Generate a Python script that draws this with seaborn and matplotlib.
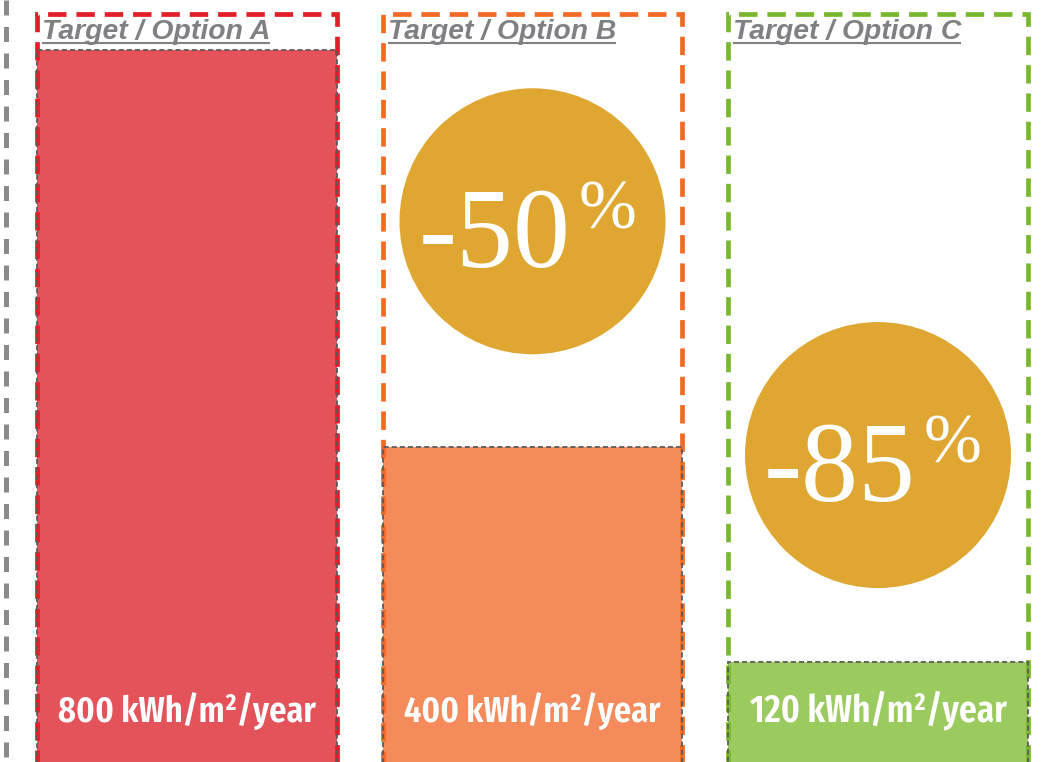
import matplotlib
matplotlib.use("Agg")
import matplotlib.pyplot as plt
import seaborn as sns
import pandas as pd
from matplotlib import font_manager
from matplotlib.font_manager import FontProperties
from matplotlib.lines import Line2D

# ---------------- data ----------------
options = ["Target / Option A", "Target / Option B", "Target / Option C"]
energy_kwh = [800, 400, 120]            # printed values
drawn_heights = [800, 356, 116]         # bar heights as drawn (graphic is not to scale)
reduction_labels = ["", "-50", "-85"]   # badge texts
unit = "kWh/m²/year"

# ---------------- styles ----------------
bar_colors = ["#E4525A", "#F58A5B", "#9BCA5F"]
box_colors = ["#E21E26", "#F26A24", "#79B82D"]
badge_color = "#DFA731"
title_color = "#7F8083"

sns.set_theme(style="white")
plt.rcParams["font.family"] = ["Liberation Sans", "DejaVu Sans"]

W, H, DPI = 1052, 762, 100
PX = 72.0 / DPI  # points per pixel
fig = plt.figure(figsize=(W / DPI, H / DPI), dpi=DPI)
fig.patch.set_facecolor("white")
ax = fig.add_axes([0, 0, 1, 1])

BAR_W = 0.868
FRAME_TOP = 840.3
Y0, Y1 = 4, 856

df = pd.DataFrame({"option": options, "height": drawn_heights,
                   "frame": [FRAME_TOP] * len(options)})
n = len(options)

# filled bars
sns.barplot(data=df, x="option", y="height", hue="option", palette=bar_colors,
            saturation=1, width=BAR_W, errorbar=None, legend=False, ax=ax,
            linewidth=0)
for p in ax.patches[:n]:
    p.set_edgecolor("none")
    p.set_zorder(1)

# coloured dashed frames
sns.barplot(data=df, x="option", y="frame", hue="option", palette=box_colors,
            saturation=1, width=BAR_W, errorbar=None, legend=False, ax=ax,
            fill=False)
for p, c in zip(ax.patches[n:2 * n], box_colors):
    p.set_facecolor("none")
    p.set_edgecolor(c)
    p.set_linewidth(3.4)
    p.set_linestyle((0, (3.9, 2.1)))
    p.set_zorder(2)

# thin grey dashed outline of the bars
sns.barplot(data=df, x="option", y="height", hue="option",
            palette=["#5A5A5A"] * n, saturation=1, width=BAR_W, errorbar=None,
            legend=False, ax=ax, fill=False)
for p in ax.patches[2 * n:3 * n]:
    p.set_facecolor("none")
    p.set_edgecolor("#5A5A5A")
    p.set_linewidth(1.3)
    p.set_linestyle((0, (2.8, 1.7)))
    p.set_zorder(3)

# badges
badge_idx = [i for i, t in enumerate(reduction_labels) if t]
badge_y = [608.6, 347.2]
sns.scatterplot(x=badge_idx, y=badge_y, s=(2 * 133 * PX) ** 2, color=badge_color,
                edgecolor="none", linewidth=0, legend=False, ax=ax, zorder=4)

ax.set_xlim(-0.5412, 2.5036)
ax.set_ylim(Y0, Y1)
ax.axis("off")

# left grey dashed separator
ax.plot([-0.5224, -0.5224], [1, 0], transform=ax.get_xaxis_transform(),
        color="#8A8A8A", lw=3.6, dashes=(3.0, 2.3), dash_capstyle="butt",
        clip_on=False, zorder=5)

# badge texts
serif = ["Liberation Serif", "DejaVu Serif"]
for i, yc in zip(badge_idx, badge_y):
    ax.annotate(reduction_labels[i], xy=(i, yc), xytext=(38 * PX, -46 * PX),
                textcoords="offset points", ha="right", va="baseline",
                fontsize=82, color="white", family=serif, zorder=6)
    ax.annotate("%", xy=(i, yc), xytext=(46 * PX, -7 * PX),
                textcoords="offset points", ha="left", va="baseline",
                fontsize=50, color="white", family=serif, zorder=6)


# pick the narrowest available sans font for the value labels
def _stretch_num(s):
    table = {"ultra-condensed": 100, "extra-condensed": 200, "condensed": 300,
             "semi-condensed": 400, "normal": 500}
    if isinstance(s, (int, float)):
        return s
    return table.get(str(s), 500)


def _weight_num(w):
    if isinstance(w, (int, float)):
        return w
    return {"normal": 400, "regular": 400, "book": 400, "medium": 500,
            "semibold": 600, "demibold": 600, "bold": 700}.get(str(w), 400)


best = None
for f in font_manager.fontManager.ttflist:
    if f.style != "normal":
        continue
    wn = _weight_num(f.weight)
    if wn < 400 or wn > 600:
        continue
    st = _stretch_num(f.stretch)
    low = f.name.lower() + " " + f.fname.lower()
    if "narrow" in low or "condensed" in low:
        st = min(st, 300)
    if "extracondensed" in low or "extra condensed" in low:
        st = min(st, 200)
    if st >= 500:
        continue
    if "serif" in low and "sans" not in low:
        continue
    if "mono" in low or "cjk" in low:
        continue
    key = (st, abs(wn - 560))
    if best is None or key < best[0]:
        best = (key, f.fname)

if best is not None:
    narrow_fp = FontProperties(fname=best[1])
else:
    narrow_fp = FontProperties(family="DejaVu Sans", stretch="condensed")

value_texts = []
for i, v in enumerate(energy_kwh):
    t = ax.annotate(f"{v} {unit}", xy=(i, 0), xycoords=("data", "axes fraction"),
                    xytext=(0, 40 * PX), textcoords="offset points",
                    ha="center", va="baseline", color="white",
                    zorder=6, fontproperties=narrow_fp)
    t.set_fontsize(30)
    value_texts.append(t)

# option titles
title_texts = []
for i, name in enumerate(options):
    t = ax.annotate(name, xy=(i - BAR_W / 2, FRAME_TOP), xytext=(5 * PX, -24.5 * PX),
                    textcoords="offset points", ha="left", va="baseline",
                    fontsize=19, fontweight="bold", fontstyle="italic",
                    color=title_color, zorder=6)
    title_texts.append(t)

# fit text widths to the reference
for _ in range(2):
    fig.canvas.draw()
    r = fig.canvas.get_renderer()
    for t in value_texts:
        w = t.get_window_extent(r).width
        t.set_fontsize(min(t.get_fontsize() * 257.0 / w, 60))
    for t in title_texts:
        w = t.get_window_extent(r).width
        t.set_fontsize(t.get_fontsize() * 228.0 / w)

fig.canvas.draw()
r = fig.canvas.get_renderer()
for i, t in enumerate(title_texts):
    bb = t.get_window_extent(r)
    yb = ax.transData.transform((i - BAR_W / 2, FRAME_TOP))[1] - 24.5 - 4.5
    fig.add_artist(Line2D([bb.x0 / W, bb.x1 / W], [yb / H, yb / H],
                          transform=fig.transFigure, color=title_color,
                          lw=1.5, solid_capstyle="butt"))

fig.savefig("out.png", dpi=DPI, facecolor="white")
